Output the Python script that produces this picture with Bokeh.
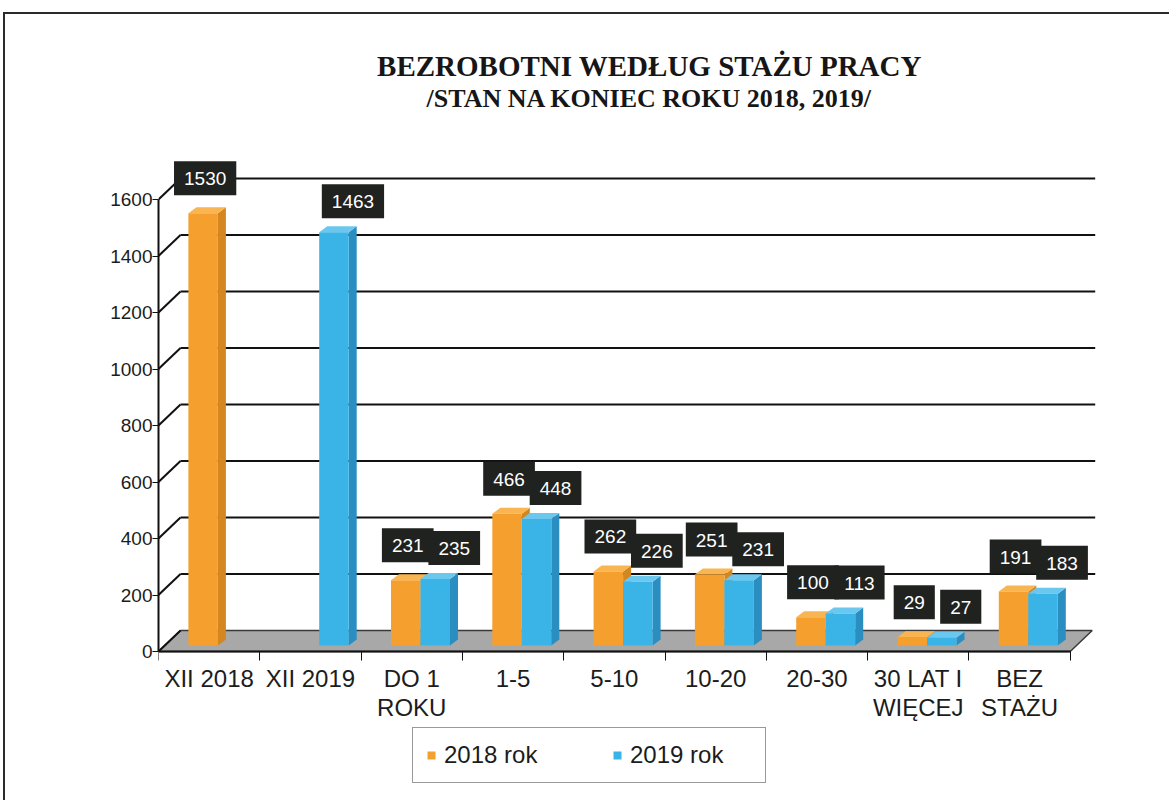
import math
from bokeh.plotting import figure
from bokeh.models import (Range1d, LinearAxis, FixedTicker, Legend, LegendItem)
from bokeh.core.properties import value
from bokeh.embed import file_html
from bokeh.resources import INLINE

# ---------------- data ----------------
categories = ["XII 2018", "XII 2019", "DO 1\nROKU", "1-5", "5-10", "10-20",
              "20-30", "30 LAT I\nWIĘCEJ", "BEZ\nSTAŻU"]
values_2018 = [1530, None, 231, 466, 262, 251, 100, 29, 191]
values_2019 = [None, 1463, 235, 448, 226, 231, 113, 27, 183]
series_names = ["2018 rok", "2019 rok"]
y_ticks = [0, 200, 400, 600, 800, 1000, 1200, 1400, 1600]
title_line1 = "BEZROBOTNI WEDŁUG STAŻU PRACY"
title_line2 = "/STAN NA KONIEC ROKU 2018, 2019/"

# ---------------- layout constants (pixels) ----------------
X0_PAGE = 158.0          # page x of category boundary 0
PX_PER_CAT = 101.3
Y0_PAGE = 651.0          # page y of value 0
PX_PER_UNIT = 452.0 / 1600.0

FIG_LEFT, FIG_TOP = 5, 14
W, H = 1166, 788
MB_TOP, MB_RIGHT, MB_BOTTOM = 4, 4, 4
MB_LEFT = int(X0_PAGE - FIG_LEFT)
frame_right = FIG_LEFT + W - MB_RIGHT
frame_top = FIG_TOP + MB_TOP
frame_bottom = FIG_TOP + H - MB_BOTTOM

def px_to_x(px):
    return (px - X0_PAGE) / PX_PER_CAT

def py_to_y(py):
    return (Y0_PAGE - py) / PX_PER_UNIT

def dx_px(d):
    return d / PX_PER_CAT

def dy_px(d):
    return d / PX_PER_UNIT

ORANGE = ("#F5A02E", "#D4861F", "#F8B552")   # front, side, top
BLUE = ("#3AB3E6", "#2A8EC0", "#6CC7EE")
TXT = "#1c1c1c"
FONT = "Liberation Sans"

p = figure(width=W, height=H, output_backend="svg", toolbar_location=None,
           x_range=Range1d(px_to_x(X0_PAGE), px_to_x(frame_right)),
           y_range=Range1d(py_to_y(frame_bottom), py_to_y(frame_top)),
           x_axis_type=None, min_border_left=MB_LEFT, min_border_top=MB_TOP,
           min_border_right=MB_RIGHT, min_border_bottom=MB_BOTTOM)
p.styles = {"margin-top": "12px", "margin-left": "3px",
            "border-top": "2px solid #2a2a2a", "border-left": "2px solid #2a2a2a"}
p.outline_line_color = None
p.xgrid.visible = False
p.ygrid.visible = False
p.background_fill_color = "white"
p.border_fill_color = "white"

n = len(categories)
WALL_DX = dx_px(22)
WALL_DY = dy_px(21)

# floor
p.patch(x=[0, n, n + WALL_DX, WALL_DX], y=[0, 0, WALL_DY, WALL_DY],
        fill_color="#A8A8A8", line_color="#3a3a3a", line_width=1.5)

# back wall grid lines and left wall diagonals
gx0 = [WALL_DX] * len(y_ticks)
gx1 = [n + WALL_DX + dx_px(3)] * len(y_ticks)
gy = [v + WALL_DY for v in y_ticks]
p.segment(x0=gx0[1:], y0=gy[1:], x1=gx1[1:], y1=gy[1:], line_color="#111111", line_width=2)
p.segment(x0=[0] * len(y_ticks), y0=y_ticks, x1=gx0, y1=gy, line_color="#111111", line_width=2)

# bars
BAR_W = dx_px(29.5)
BAR_DX = dx_px(8)
BAR_DY = dy_px(6)
BASE = dy_px(6)
offsets = [dx_px(-6), dx_px(23.5)]
label_offsets = [(2, -35), (19, -31)]

renderers = []
for s, (vals, cols) in enumerate([(values_2018, ORANGE), (values_2019, BLUE)]):
    xs, tops, texts = [], [], []
    for i, v in enumerate(vals):
        if v is None:
            continue
        xs.append(i + 0.5 + offsets[s])
        tops.append(v + BASE)
        texts.append(str(v))
    side_x = [[x + BAR_W / 2, x + BAR_W / 2 + BAR_DX, x + BAR_W / 2 + BAR_DX, x + BAR_W / 2] for x in xs]
    side_y = [[BASE, BASE + BAR_DY, t + BAR_DY, t] for t in tops]
    top_x = [[x - BAR_W / 2, x + BAR_W / 2, x + BAR_W / 2 + BAR_DX, x - BAR_W / 2 + BAR_DX] for x in xs]
    top_y = [[t, t, t + BAR_DY, t + BAR_DY] for t in tops]
    p.patches(xs=side_x, ys=side_y, fill_color=cols[1], line_color=None)
    p.patches(xs=top_x, ys=top_y, fill_color=cols[2], line_color=None)
    r = p.vbar(x=xs, bottom=BASE, top=tops, width=BAR_W, fill_color=cols[0], line_color=None)
    renderers.append(r)
    lo = label_offsets[s]
    p.text(x=xs, y=tops, text=texts, x_offset=lo[0], y_offset=lo[1],
           text_align="center", text_baseline="middle", text_color="white",
           text_font=value(FONT), text_font_size="19px",
           background_fill_color="#1f221f",
           padding=dict(left=10, right=10, top=11, bottom=10))

# axes
p.yaxis.ticker = FixedTicker(ticks=y_ticks)
p.yaxis.bounds = (0, 1600)
p.yaxis.major_tick_in = 0
p.yaxis.major_tick_out = 6
p.yaxis.minor_tick_line_color = None
p.yaxis.axis_line_width = 2
p.yaxis.axis_line_color = "#111111"
p.yaxis.major_tick_line_color = "#111111"
p.yaxis.major_label_text_font = FONT
p.yaxis.major_label_text_font_size = "19px"
p.yaxis.major_label_text_color = TXT
p.yaxis.major_label_standoff = 0

ax_ticks = LinearAxis(fixed_location=0, ticker=FixedTicker(ticks=list(range(n + 1))),
                      bounds=(0, n), major_tick_in=0, major_tick_out=9,
                      minor_tick_line_color=None, major_label_text_color=None,
                      axis_line_width=2, axis_line_color="#111111",
                      major_tick_line_color="#111111")
p.add_layout(ax_ticks, "below")

centers = [i + 0.5 for i in range(n)]
ax_labels = LinearAxis(fixed_location=0, ticker=FixedTicker(ticks=centers),
                       major_label_overrides={c: lab for c, lab in zip(centers, categories)},
                       axis_line_color=None, major_tick_line_color=None,
                       minor_tick_line_color=None, major_tick_out=0, major_tick_in=0,
                       major_label_standoff=13, major_label_text_font=FONT,
                       major_label_text_font_size="24px", major_label_text_color=TXT,
                       major_label_text_line_height=1.1)
p.add_layout(ax_labels, "below")

# titles
tx = px_to_x(649)
p.text(x=[tx], y=[py_to_y(65)], text=[title_line1], text_align="center",
       text_baseline="middle", text_font=value("Liberation Serif"),
       text_font_style="bold", text_font_size="29px", text_color="#161616")
p.text(x=[tx], y=[py_to_y(98)], text=[title_line2], text_align="center",
       text_baseline="middle", text_font=value("Liberation Serif"),
       text_font_style="bold", text_font_size="26px", text_color="#161616")

legend = Legend(items=[LegendItem(label=series_names[0], renderers=[renderers[0]]),
                       LegendItem(label=series_names[1], renderers=[renderers[1]])],
                orientation="horizontal", location=(412 - X0_PAGE, frame_bottom - 783),
                glyph_width=10, glyph_height=10, label_text_font=FONT,
                label_text_font_size="24px", label_text_color=TXT,
                padding=13, spacing=46, label_standoff=8, label_width=122,
                border_line_color="#333333", border_line_width=1.5,
                background_fill_alpha=1.0, margin=0)
p.add_layout(legend)

open("out.html", "w").write(file_html(p, INLINE))
